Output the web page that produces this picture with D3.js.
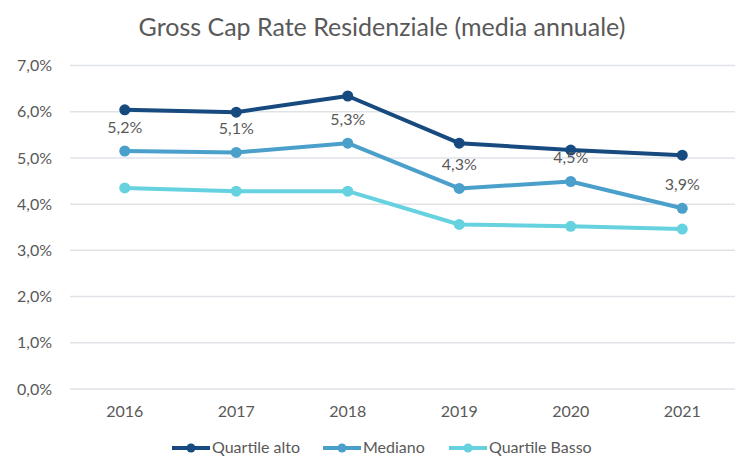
<!DOCTYPE html>
<html>
<head>
<meta charset="utf-8">
<script src="https://cdn.jsdelivr.net/npm/d3@7"></script>
<style>
  body { margin: 0; background: #fff; }
  svg text { font-family: Lato, "Open Sans", sans-serif; fill: #595959; }
</style>
</head>
<body>
<svg id="chart" width="735" height="456"></svg>
<script>
const years = ["2016", "2017", "2018", "2019", "2020", "2021"];
const quartileAlto = [6.04, 5.99, 6.34, 5.32, 5.17, 5.06];
const mediano = [5.15, 5.12, 5.32, 4.34, 4.49, 3.91];
const quartileBasso = [4.35, 4.28, 4.28, 3.56, 3.52, 3.46];
const yTicks = [0, 1, 2, 3, 4, 5, 6, 7];
const labelValues = ["5,2%", "5,1%", "5,3%", "4,3%", "4,5%", "3,9%"];

const series = [
    { name: "Quartile alto", values: quartileAlto, color: "#174A7E" },
    { name: "Mediano", values: mediano, color: "#4A9FCB" },
    { name: "Quartile Basso", values: quartileBasso, color: "#66D2E0" }
];

const svg = d3.select("#chart");

const x = d3.scalePoint()
    .domain(years)
    .range([69, 738])
    .padding(0.5);

const y = d3.scaleLinear()
    .domain([0, 7])
    .range([389, 65.5]);

// titolo
svg.append("text")
    .attr("x", 382)
    .attr("y", 27)
    .attr("dy", "0.35em")
    .attr("text-anchor", "middle")
    .style("font-size", "25px")
    .text("Gross Cap Rate Residenziale (media annuale)");

// griglia
svg.append("g")
    .selectAll("line")
    .data(yTicks)
    .join("line")
    .attr("x1", 70)
    .attr("x2", 735)
    .attr("y1", d => y(d))
    .attr("y2", d => y(d))
    .attr("stroke", "#dfe3e8")
    .attr("stroke-width", 1.5);

// asse y
svg.append("g")
    .selectAll("text")
    .data(yTicks)
    .join("text")
    .attr("x", 52)
    .attr("y", d => y(d))
    .attr("dy", "0.35em")
    .attr("text-anchor", "end")
    .style("font-size", "16px")
    .text(d => d.toFixed(1).replace(".", ",") + "%");

// asse x
svg.append("g")
    .selectAll("text")
    .data(years)
    .join("text")
    .attr("x", d => x(d))
    .attr("y", 411)
    .attr("dy", "0.35em")
    .attr("text-anchor", "middle")
    .style("font-size", "16px")
    .text(d => d);

const line = d3.line()
    .x((d, i) => x(years[i]))
    .y(d => y(d));

series.forEach(s => {
    svg.append("path")
        .datum(s.values)
        .attr("fill", "none")
        .attr("stroke", s.color)
        .attr("stroke-width", 4)
        .attr("stroke-linejoin", "round")
        .attr("d", line);

    svg.append("g")
        .selectAll("circle")
        .data(s.values)
        .join("circle")
        .attr("cx", (d, i) => x(years[i]))
        .attr("cy", d => y(d))
        .attr("r", 5.5)
        .attr("fill", s.color);
});

// etichette mediano
svg.append("g")
    .selectAll("text")
    .data(mediano)
    .join("text")
    .attr("x", (d, i) => x(years[i]))
    .attr("y", d => y(d) - 24)
    .attr("dy", "0.35em")
    .attr("text-anchor", "middle")
    .style("font-size", "16px")
    .text((d, i) => labelValues[i]);

// legenda
const legendX = [172, 323, 449];
series.forEach((s, i) => {
    const g = svg.append("g").attr("transform", `translate(${legendX[i]}, 448)`);
    g.append("line")
        .attr("x1", 0).attr("x2", 38)
        .attr("stroke", s.color)
        .attr("stroke-width", 4);
    g.append("circle")
        .attr("cx", 19).attr("r", 4.5)
        .attr("fill", s.color);
    g.append("text")
        .attr("x", 40)
        .attr("dy", "0.3em")
        .style("font-size", "16px")
        .text(s.name);
});
</script>
</body>
</html>
